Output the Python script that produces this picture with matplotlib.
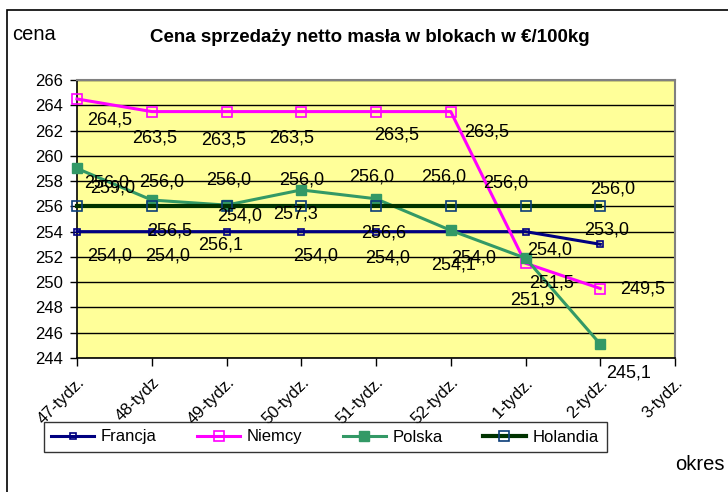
import numpy as np
import matplotlib
matplotlib.use("Agg")
import matplotlib.pyplot as plt
from matplotlib.patches import Rectangle
from matplotlib.lines import Line2D

plt.rcParams['font.family'] = ['Liberation Sans', 'DejaVu Sans']

# data
weeks = ["47-tydz.", "48-tydz", "49-tydz.", "50-tydz.", "51-tydz.",
         "52-tydz.", "1-tydz.", "2-tydz.", "3-tydz."]
francja  = [254.0, 254.0, 254.0, 254.0, 254.0, 254.0, 254.0, 253.0]
niemcy   = [264.5, 263.5, 263.5, 263.5, 263.5, 263.5, 251.5, 249.5]
polska   = [259.0, 256.5, 256.1, 257.3, 256.6, 254.1, 251.9, 245.1]
holandia = [256.0, 256.0, 256.0, 256.0, 256.0, 256.0, 256.0, 256.0]

# where the value labels sit relative to their point (pixels)
off_francja  = [(33, -24), (16, -24), (13, 16), (14, -24), (12, -26), (23, -26), (24, -18), (6, 14)]
off_niemcy   = [(33, -21), (3, -26), (-3, -28), (-10, -26), (21, -23), (36, -20), (26, -20), (42, -1)]
off_polska   = [(36, -20), (18, -31), (-6, -40), (-6, -24), (8, -34), (3, -35), (7, -42), (28, -29)]
off_holandia = [(30, 23), (10, 24), (2, 26), (0, 26), (-4, 29), (-7, 29), (-20, 23), (12, 17)]

W, H = 728, 492
fig = plt.figure(figsize=(W / 100, H / 100), dpi=100)
ax = fig.add_axes([77 / W, 1 - 358 / H, 598 / W, 278 / H])
ax.set_facecolor("#FFFF99")

x = np.arange(len(francja))

series = [
    ("Francja", francja, off_francja, dict(color="#000080", lw=2.2, marker="s", ms=4,
                                            mfc="none", mec="#000080", mew=1.2)),
    ("Niemcy", niemcy, off_niemcy, dict(color="#FF00FF", lw=2.2, marker="s", ms=7,
                                         mfc="none", mec="#FF00FF", mew=1.2)),
    ("Polska", polska, off_polska, dict(color="#339966", lw=2.2, marker="s", ms=7,
                                         mfc="#339966", mec="#339966")),
    ("Holandia", holandia, off_holandia, dict(color="#003300", lw=3.0, marker="s", ms=6.5,
                                               mfc="none", mec="#0B3D78", mew=1.2)),
]

handles = []
for name, vals, offs, st in series:
    ax.plot(x, vals, clip_on=False, zorder=3, **st)
    handles.append(Line2D([], [], label=name, **st))

for name, vals, offs, st in series:
    for xi, v, o in zip(x, vals, offs):
        ax.annotate(f"{v:.1f}".replace(".", ","), (xi, v), xytext=o,
                    textcoords="offset pixels", ha="center", va="center",
                    fontsize=13, color="black", zorder=5, annotation_clip=False)

ax.set_xlim(0, 8)
ax.set_ylim(244, 266)
ax.set_yticks(np.arange(244, 267, 2))
ax.tick_params(axis="y", labelsize=12, length=5, width=1, direction="out", pad=5)
ax.set_xticks(np.arange(len(weeks)))
ax.set_xticklabels(weeks)
ax.tick_params(axis="x", labelsize=12, length=6, width=1, direction="out", pad=6)
for lbl in ax.get_xticklabels():
    lbl.set_rotation(45)
    lbl.set_ha("right")
    lbl.set_rotation_mode("anchor")

ax.grid(axis="y", color="black", lw=1)
ax.set_axisbelow(True)
for s in ["left", "bottom"]:
    ax.spines[s].set_color("black")
    ax.spines[s].set_linewidth(1.2)
for s in ["top", "right"]:
    ax.spines[s].set_color("#808080")
    ax.spines[s].set_linewidth(1.5)

fig.text(370 / W, 1 - 37 / H, "Cena sprzedaży netto masła w blokach w €/100kg",
         ha="center", va="center", fontsize=13.5, fontweight="bold")
fig.text(12 / W, 1 - 35 / H, "cena", ha="left", va="center", fontsize=14.5)
fig.text(725 / W, 1 - 465 / H, "okres", ha="right", va="center", fontsize=14.5)

leg = fig.legend(handles=handles, loc="center", bbox_to_anchor=(325 / W, 1 - 437 / H),
                 ncol=4, fontsize=12, frameon=True, fancybox=False, edgecolor="black",
                 handlelength=2.6, columnspacing=2.4, handletextpad=0.4, borderpad=0.45)
leg.get_frame().set_linewidth(1)

fig.patches.append(Rectangle((7 / W, -0.01), 1.02, 1 - 10 / H + 0.01, transform=fig.transFigure,
                             fill=False, edgecolor="black", lw=1.2))

fig.savefig("out.png", dpi=100)
